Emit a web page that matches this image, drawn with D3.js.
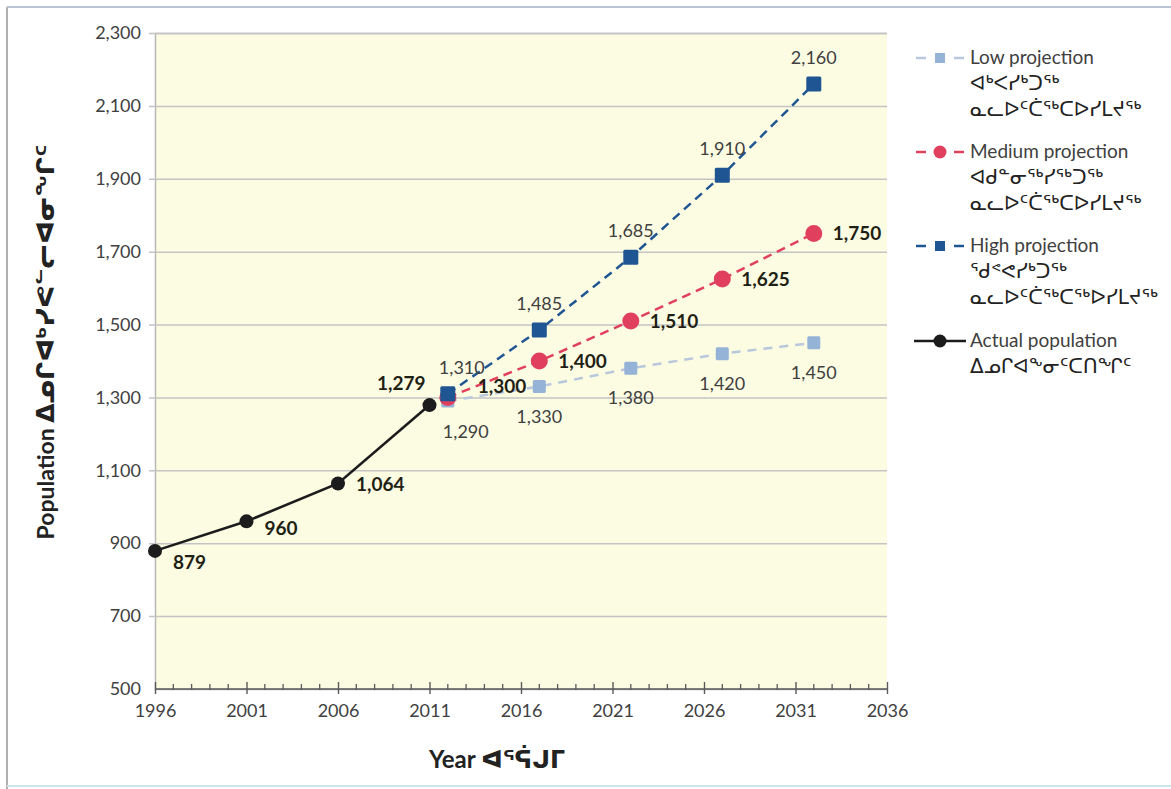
<!DOCTYPE html>
<html>
<head>
<meta charset="utf-8">
<script src="https://cdn.jsdelivr.net/npm/d3@7/dist/d3.min.js"></script>
<style>
  html, body { margin: 0; padding: 0; background: #ffffff; }
  svg { display: block; }
  text { font-family: Lato, "DejaVu Sans", sans-serif; }
</style>
</head>
<body>
<svg id="chart" width="1171" height="789"></svg>
<script>
// ---- Data ----
const actualYears = [1996, 2001, 2006, 2011];
const actualValues = [879, 960, 1064, 1279];
const projYears = [2012, 2017, 2022, 2027, 2032];
const lowValues = [1290, 1330, 1380, 1420, 1450];
const mediumValues = [1300, 1400, 1510, 1625, 1750];
const highValues = [1310, 1485, 1685, 1910, 2160];
const yTicks = [500, 700, 900, 1100, 1300, 1500, 1700, 1900, 2100, 2300];
const xTicks = [1996, 2001, 2006, 2011, 2016, 2021, 2026, 2031, 2036];
const legendLabels = [
  ["Low projection", "ᐊᒃᐸᓯᒃᑐᖅ", "ᓇᓚᐅᑦᑖᖅᑕᐅᓯᒪᔪᖅ"],
  ["Medium projection", "ᐊᑯᓐᓂᖅᓯᖅᑐᖅ", "ᓇᓚᐅᑦᑖᖅᑕᐅᓯᒪᔪᖅ"],
  ["High projection", "ᖁᕝᕙᓯᒃᑐᖅ", "ᓇᓚᐅᑦᑖᖅᑕᖅᐅᓯᒪᔪᖅ"],
  ["Actual population", "ᐃᓄᒋᐊᖕᓂᑦᑕᑎᖏᑦ"]
];
const yTitleEn = "Population";
const yTitleIu = "ᐃᓄᒋᐊᒃᓯᕙᓪᓕᐊᓂᖏᑦ";
const xTitleEn = "Year";
const xTitleIu = "ᐊᕐᕌᒍᒥ";

// ---- Setup ----
const svg = d3.select("#chart");
const fmt = d3.format(",");
const x = d3.scaleLinear().domain([1996, 2036]).range([155, 887]);
const y = d3.scaleLinear().domain([500, 2300]).range([689, 33]);

const C = {
  high: "#1f5592",
  med: "#e0405e",
  lowMark: "#95b3d7",
  lowLine: "#b9c7dc",
  actual: "#1c1c1c",
  text: "#404040",
  bold: "#1f1f14"
};

// scan frame
svg.append("line").attr("x1", 7).attr("x2", 7).attr("y1", 7).attr("y2", 789).attr("stroke", "#b0b0b0").attr("stroke-width", 2);
svg.append("line").attr("x1", 7).attr("x2", 1171).attr("y1", 7).attr("y2", 7).attr("stroke", "#b8c4d4").attr("stroke-width", 2);
svg.append("line").attr("x1", 7).attr("x2", 1171).attr("y1", 786).attr("y2", 786).attr("stroke", "#cfe3f0").attr("stroke-width", 2);

// plot background
svg.append("rect")
  .attr("x", x(1996)).attr("y", y(2300))
  .attr("width", x(2036) - x(1996)).attr("height", y(500) - y(2300))
  .attr("fill", "#fcfce3");

// horizontal gridlines + y axis
const yAxis = d3.axisLeft(y).tickValues(yTicks).tickFormat(fmt)
  .tickSize(-(x(2036) - x(1996))).tickPadding(14);
const gy = svg.append("g").attr("transform", `translate(${x(1996)},0)`).call(yAxis);
gy.select(".domain").attr("stroke", "#b8b8b8").attr("stroke-width", 1.5);
gy.selectAll(".tick line").attr("stroke", "#c4c4c4").attr("stroke-width", 1.5).attr("x1", -6);
gy.selectAll(".tick text").attr("fill", C.text).style("font-size", "18px");
gy.selectAll(".tick").filter(d => d === 500).select("line").remove();

// x axis with minor ticks
const minorYears = d3.range(1996, 2037);
const gx = svg.append("g").attr("transform", `translate(0,${y(500)})`);
gx.append("line").attr("x1", x(1996)).attr("x2", x(2036)).attr("stroke", "#5a5a5a").attr("stroke-width", 1.6);
gx.selectAll(".minor").data(minorYears.filter(v => !xTicks.includes(v))).join("line")
  .attr("x1", d => x(d)).attr("x2", d => x(d)).attr("y1", -5).attr("y2", 1)
  .attr("stroke", "#5a5a5a").attr("stroke-width", 1.3);
const xAxis = d3.axisBottom(x).tickValues(xTicks).tickFormat(d3.format("d")).tickSizeInner(5).tickSizeOuter(0).tickPadding(10);
const gxa = svg.append("g").attr("transform", `translate(0,${y(500)})`).call(xAxis);
gxa.select(".domain").remove();
gxa.selectAll(".tick line").attr("y1", -7).attr("y2", 5).attr("stroke", "#5a5a5a").attr("stroke-width", 1.4);
gxa.selectAll(".tick text").attr("fill", C.text).style("font-size", "18px");

// axis titles
const yt = svg.append("text")
  .attr("transform", `translate(54,342) rotate(-90)`)
  .attr("text-anchor", "middle").attr("fill", "#222")
  .style("font-weight", "bold");
yt.append("tspan").style("font-size", "23px").text(yTitleEn + "  ");
yt.append("tspan").style("font-size", "25px").text(yTitleIu);

const xt = svg.append("text").attr("x", 497).attr("y", 768).attr("text-anchor", "middle").attr("fill", "#222")
  .style("font-weight", "bold");
xt.append("tspan").style("font-size", "24px").text(xTitleEn + "  ");
xt.append("tspan").style("font-size", "24px").text(xTitleIu);

// ---- series ----
const line = d3.line().x(d => x(d[0])).y(d => y(d[1]));
const zip = (xs, vs) => xs.map((v, i) => [v, vs[i]]);

function squares(g, pts, size, color) {
  g.selectAll(null).data(pts).join("rect")
    .attr("x", d => x(d[0]) - size / 2).attr("y", d => y(d[1]) - size / 2)
    .attr("width", size).attr("height", size).attr("rx", 1.5).attr("fill", color);
}
function circles(g, pts, r, color) {
  g.selectAll(null).data(pts).join("circle")
    .attr("cx", d => x(d[0])).attr("cy", d => y(d[1])).attr("r", r).attr("fill", color);
}

const lowPts = zip(projYears, lowValues);
const medPts = zip(projYears, mediumValues);
const highPts = zip(projYears, highValues);
const actPts = zip(actualYears, actualValues);

const gl = svg.append("g");
gl.append("path").datum(lowPts).attr("d", line).attr("fill", "none")
  .attr("stroke", C.lowLine).attr("stroke-width", 2.5).attr("stroke-dasharray", "9,7");
squares(gl, lowPts, 13, C.lowMark);

const gm = svg.append("g");
gm.append("path").datum(medPts).attr("d", line).attr("fill", "none")
  .attr("stroke", C.med).attr("stroke-width", 2.5).attr("stroke-dasharray", "9,6");
circles(gm, medPts, 8.5, C.med);

const gh = svg.append("g");
gh.append("path").datum(highPts).attr("d", line).attr("fill", "none")
  .attr("stroke", C.high).attr("stroke-width", 2.5).attr("stroke-dasharray", "9,6");
squares(gh, highPts, 15, C.high);

const ga = svg.append("g");
ga.append("path").datum(actPts).attr("d", line).attr("fill", "none")
  .attr("stroke", C.actual).attr("stroke-width", 2.6);
circles(ga, actPts, 7, C.actual);

// ---- data labels ----
function labels(pts, opts) {
  svg.append("g").selectAll(null).data(pts).join("text")
    .attr("x", (d, i) => x(d[0]) + opts.dx(i))
    .attr("y", (d, i) => y(d[1]) + opts.dy(i))
    .attr("text-anchor", (d, i) => opts.anchor(i))
    .attr("fill", opts.color)
    .style("font-size", opts.size)
    .style("font-weight", opts.weight)
    .text(d => fmt(d[1]));
}
labels(actPts, {
  dx: i => [18, 18, 18, -4][i], dy: i => [18, 14, 8, -15][i],
  anchor: i => i === 3 ? "end" : "start", color: C.bold, size: "19px", weight: "bold"
});
labels(highPts, {
  dx: i => i === 0 ? 14 : 0, dy: i => -20,
  anchor: () => "middle", color: C.text, size: "18px", weight: "normal"
});
labels(medPts, {
  dx: i => i === 0 ? 30 : 19, dy: i => i === 0 ? -4 : 7,
  anchor: () => "start", color: C.bold, size: "19px", weight: "bold"
});
labels(lowPts, {
  dx: i => i === 0 ? 18 : 0, dy: i => i === 0 ? 37 : 36,
  anchor: () => "middle", color: C.text, size: "18px", weight: "normal"
});

// ---- legend ----
const legend = svg.append("g");
const legRows = [
  { y: 58, kind: "low" },
  { y: 152, kind: "med" },
  { y: 246, kind: "high" },
  { y: 341, kind: "act" }
];
legRows.forEach((r, k) => {
  const g = legend.append("g").attr("transform", `translate(0,${r.y})`);
  if (r.kind === "act") {
    g.append("line").attr("x1", 914).attr("x2", 966).attr("stroke", C.actual).attr("stroke-width", 2.6);
    g.append("circle").attr("cx", 940).attr("r", 6.5).attr("fill", C.actual);
  } else {
    const col = r.kind === "low" ? C.lowLine : r.kind === "med" ? C.med : C.high;
    const mcol = r.kind === "low" ? C.lowMark : col;
    g.append("line").attr("x1", 916).attr("x2", 926).attr("stroke", col).attr("stroke-width", 2.5);
    g.append("line").attr("x1", 954).attr("x2", 964).attr("stroke", col).attr("stroke-width", 2.5);
    if (r.kind === "med") g.append("circle").attr("cx", 940).attr("r", 6.5).attr("fill", mcol);
    else g.append("rect").attr("x", 935).attr("y", -5).attr("width", 10).attr("height", 10).attr("fill", mcol);
  }
  legendLabels[k].forEach((t, j) => {
    g.append("text").attr("x", 970).attr("y", 6 + j * 26)
      .attr("fill", j === 0 ? C.text : "#222")
      .style("font-size", j === 0 ? "19px" : "20px")
      .text(t);
  });
});
</script>
</body>
</html>
